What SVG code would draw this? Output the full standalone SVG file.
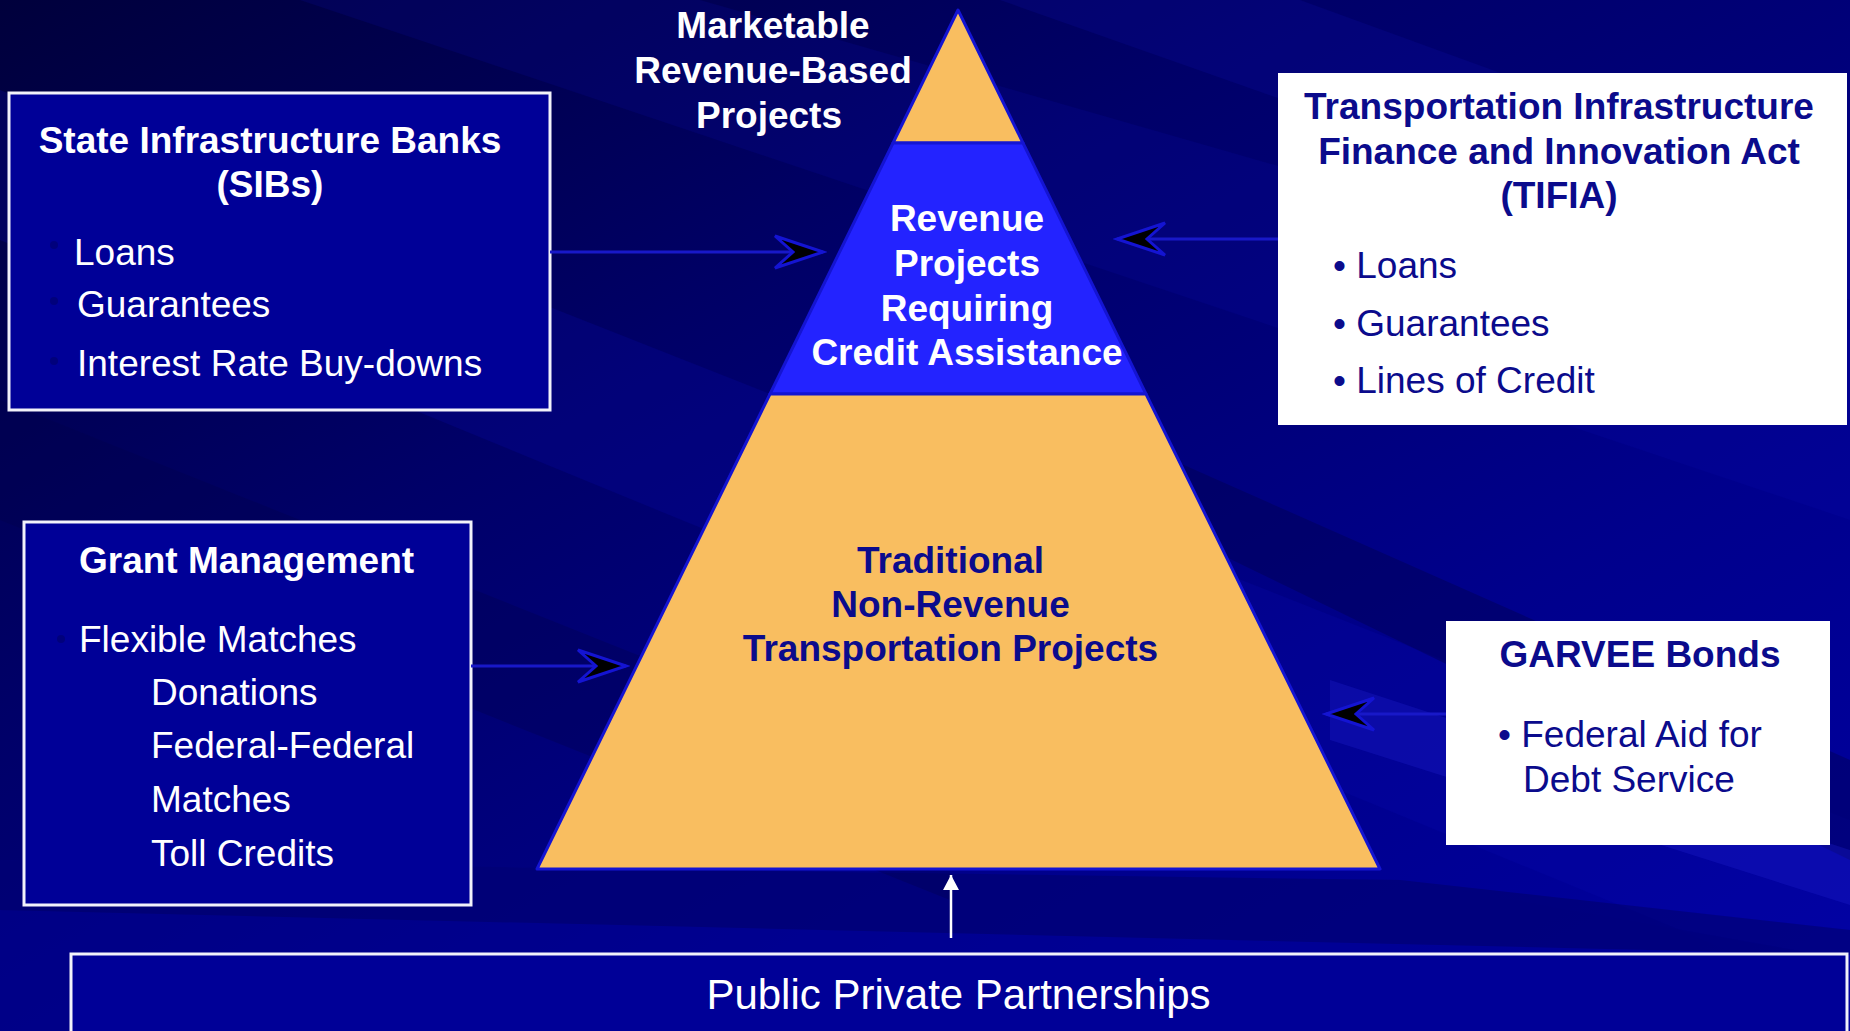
<svg xmlns="http://www.w3.org/2000/svg" xmlns:xlink="http://www.w3.org/1999/xlink" width="1850" height="1031" viewBox="0 0 1850 1031">
  <style>
    text { font-family: "Liberation Sans", Arial, sans-serif; font-size: 37px; }
    .b { font-weight: bold; }
    .w { fill: #ffffff; }
    .n { fill: #0b0b8c; }
    .mid { text-anchor: middle; }
    .darkbox { fill: #000097; stroke: #f2f2fa; stroke-width: 3; }
    .lightbox { fill: #ffffff; }
    .tier-o { fill: #f9be60; stroke: #1414d2; stroke-width: 3; stroke-linejoin: round; }
    .tier-b { fill: #2323ff; stroke: #1414d2; stroke-width: 3; stroke-linejoin: round; }
    .link { fill: none; stroke: #1818c8; stroke-width: 3; }
    .up { fill: none; stroke: #ffffff; stroke-width: 2.5; }
    .dot { fill: #00007c; }
  </style>
  <defs>
    <linearGradient id="bg" x1="0" y1="0" x2="1" y2="1">
      <stop offset="0" stop-color="#00003c"/>
      <stop offset="0.35" stop-color="#000068"/>
      <stop offset="0.7" stop-color="#00008c"/>
      <stop offset="1" stop-color="#0000a2"/>
    </linearGradient>
    <marker id="stealth" viewBox="-52 -20 56 40" markerWidth="56" markerHeight="40" refX="0" refY="0" orient="auto" markerUnits="userSpaceOnUse">
      <path d="M0,0 L-48,-16 L-30,0 L-48,16 Z" fill="#000000" stroke="#1414d2" stroke-width="3" stroke-linejoin="miter"/>
    </marker>
    <marker id="tri" viewBox="-18 -10 20 20" markerWidth="20" markerHeight="20" refX="0" refY="0" orient="auto" markerUnits="userSpaceOnUse">
      <path d="M0,0 L-15,-8 L-15,8 Z" fill="#ffffff"/>
    </marker>
  </defs>

  <!-- backdrop with diagonal streaks -->
  <g id="backdrop">
    <rect x="0" y="0" width="1850" height="1031" fill="url(#bg)"/>
    <polygon points="0,90 0,240 1850,1000 1850,820" fill="#0a0ab0" opacity="0.22"/>
    <polygon points="300,0 700,0 1850,330 1850,520" fill="#0c0cb4" opacity="0.16"/>
    <polygon points="1000,0 1300,0 1850,200 1850,300" fill="#1010c0" opacity="0.16"/>
    <polygon points="1150,450 1850,760 1850,860 1150,520" fill="#00004c" opacity="0.4"/>
    <polygon points="1330,680 1850,850 1850,905 1330,740" fill="#2020d0" opacity="0.3"/>
    <polygon points="0,860 1400,880 1850,960 1850,1031 0,1031" fill="#000096" opacity="0.55"/>
    <polygon points="0,860 1400,880 1850,930 1850,955 0,910" fill="#000060" opacity="0.45"/>
    <polygon points="0,400 0,520 950,900 950,780" fill="#00004a" opacity="0.3"/>
  </g>

  <!-- pyramid tiers -->
  <g id="tier-marketable">
    <polygon class="tier-o" points="958,10 1023,143 893,143"/>
  </g>
  <g id="tier-credit">
    <polygon class="tier-b" points="893,143 1023,143 1146,394 770,394"/>
    <text class="b w mid" x="967" y="231">Revenue</text>
    <text class="b w mid" x="967" y="276">Projects</text>
    <text class="b w mid" x="967" y="321">Requiring</text>
    <text class="b w mid" x="967" y="365">Credit Assistance</text>
  </g>
  <g id="tier-traditional">
    <polygon class="tier-o" points="770,394 1146,394 1380,869 537,869"/>
    <text class="b n mid" x="950.5" y="573">Traditional</text>
    <text class="b n mid" x="950.5" y="617">Non-Revenue</text>
    <text class="b n mid" x="950.5" y="661">Transportation Projects</text>
  </g>

  <g id="label-marketable">
    <text class="b w mid" x="773" y="38">Marketable</text>
    <text class="b w mid" x="773" y="83">Revenue-Based</text>
    <text class="b w mid" x="769" y="128">Projects</text>
  </g>

  <!-- funding sources -->
  <g id="sibs">
    <rect class="darkbox" x="9" y="93" width="541" height="317"/>
    <text class="b w mid" x="270" y="153">State Infrastructure Banks</text>
    <text class="b w mid" x="270" y="197">(SIBs)</text>
    <circle class="dot" cx="54" cy="245" r="4"/>
    <circle class="dot" cx="54" cy="301" r="4"/>
    <circle class="dot" cx="54" cy="361" r="4"/>
    <text class="w" x="74" y="265">Loans</text>
    <text class="w" x="77" y="317">Guarantees</text>
    <text class="w" x="77" y="376">Interest Rate Buy-downs</text>
  </g>

  <g id="tifia">
    <rect class="lightbox" x="1278" y="73" width="569" height="352"/>
    <text class="b n mid" x="1559" y="119">Transportation Infrastructure</text>
    <text class="b n mid" x="1559" y="164">Finance and Innovation Act</text>
    <text class="b n mid" x="1559" y="208">(TIFIA)</text>
    <text class="n" x="1333" y="278">• Loans</text>
    <text class="n" x="1333" y="336">• Guarantees</text>
    <text class="n" x="1333" y="393">• Lines of Credit</text>
  </g>

  <g id="grants">
    <rect class="darkbox" x="24" y="522" width="447" height="383"/>
    <text class="b w" x="79" y="573">Grant Management</text>
    <circle class="dot" cx="61" cy="639" r="4"/>
    <text class="w" x="79" y="652">Flexible Matches</text>
    <text class="w" x="151" y="705">Donations</text>
    <text class="w" x="151" y="758">Federal-Federal</text>
    <text class="w" x="151" y="812">Matches</text>
    <text class="w" x="151" y="866">Toll Credits</text>
  </g>

  <g id="garvee">
    <rect class="lightbox" x="1446" y="621" width="384" height="224"/>
    <text class="b n mid" x="1640" y="667">GARVEE Bonds</text>
    <text class="n" x="1498" y="747">• Federal Aid for</text>
    <text class="n" x="1523" y="792">Debt Service</text>
  </g>

  <g id="ppp">
    <rect class="darkbox" x="71" y="954" width="1776" height="100"/>
    <text class="w mid" x="958.5" y="1009" style="font-size:42px">Public Private Partnerships</text>
  </g>

  <!-- connectors -->
  <g id="connectors">
    <path class="link" d="M550,252 L823,252" marker-end="url(#stealth)"/>
    <path class="link" d="M1278,239 L1117,239" marker-end="url(#stealth)"/>
    <path class="link" d="M471,666 L626,666" marker-end="url(#stealth)"/>
    <path class="link" d="M1446,714 L1326,714" marker-end="url(#stealth)"/>
    <path class="up" d="M951,938 L951,875" marker-end="url(#tri)"/>
  </g>
</svg>
